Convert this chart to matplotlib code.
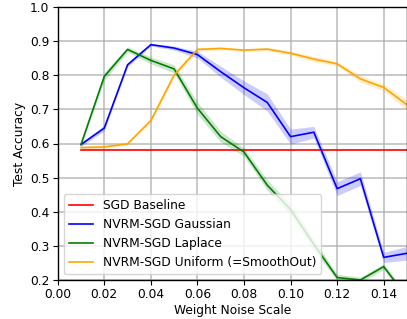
import numpy as np
import matplotlib
matplotlib.use("Agg")
import matplotlib.pyplot as plt

noise = [0.01, 0.02, 0.03, 0.04, 0.05, 0.06, 0.07, 0.08, 0.09, 0.10, 0.11, 0.12, 0.13, 0.14, 0.15]

sgd_mean = [0.582] * 15
sgd_std = [0.002] * 15

gauss_mean = [0.597, 0.645, 0.830, 0.889, 0.879, 0.860, 0.810, 0.763, 0.720, 0.620, 0.633, 0.468, 0.497, 0.267, 0.279]
gauss_std = [0.006, 0.008, 0.006, 0.004, 0.006, 0.010, 0.016, 0.020, 0.025, 0.022, 0.017, 0.020, 0.020, 0.015, 0.020]

lap_mean = [0.597, 0.796, 0.875, 0.843, 0.818, 0.703, 0.620, 0.575, 0.478, 0.407, 0.305, 0.208, 0.201, 0.240, 0.150]
lap_std = [0.005, 0.012, 0.008, 0.010, 0.012, 0.018, 0.016, 0.012, 0.015, 0.016, 0.016, 0.010, 0.008, 0.008, 0.010]

uni_mean = [0.588, 0.590, 0.599, 0.667, 0.800, 0.875, 0.878, 0.873, 0.876, 0.864, 0.847, 0.833, 0.789, 0.764, 0.713]
uni_std = [0.004, 0.004, 0.004, 0.006, 0.008, 0.006, 0.004, 0.004, 0.005, 0.006, 0.008, 0.006, 0.010, 0.010, 0.015]

series = [
    ("SGD Baseline", sgd_mean, sgd_std, "red"),
    ("NVRM-SGD Gaussian", gauss_mean, gauss_std, "blue"),
    ("NVRM-SGD Laplace", lap_mean, lap_std, "green"),
    ("NVRM-SGD Uniform (=SmoothOut)", uni_mean, uni_std, "orange"),
]

xticks = [0.00, 0.02, 0.04, 0.06, 0.08, 0.10, 0.12, 0.14]
yticks = [0.2, 0.3, 0.4, 0.5, 0.6, 0.7, 0.8, 0.9, 1.0]

fs = 8.8
fig = plt.figure(figsize=(4.07, 3.19), dpi=100)
ax = fig.add_axes([57.7 / 407, 1 - 280.3 / 319, (407 - 57.7) / 407, (280.3 - 6.7) / 319])

x = np.array(noise)
for label, m, s, c in series:
    m = np.array(m)
    s = np.array(s)
    ax.plot(x, m, color=c, lw=1.2, label=label)
    ax.fill_between(x, m - s, m + s, color=c, alpha=0.2, lw=0)

ax.set_xlim(0.0, 0.15)
ax.set_ylim(0.2, 1.0)
ax.set_xticks(xticks)
ax.set_yticks(yticks)
ax.set_xticklabels([f"{t:.2f}" for t in xticks], fontsize=fs)
ax.set_yticklabels([f"{t:.1f}" for t in yticks], fontsize=fs)
ax.tick_params(axis="x", pad=2.0, length=3.5)
ax.tick_params(axis="y", pad=2.5, length=3.5)
ax.grid(True, color="#b0b0b0", lw=1.2, alpha=0.8)
ax.set_axisbelow(True)
ax.set_xlabel("Weight Noise Scale", fontsize=fs, labelpad=2.0)
ax.set_ylabel("Test Accuracy", fontsize=fs, labelpad=3.0)
for sp in ax.spines.values():
    sp.set_color("black")
    sp.set_linewidth(1.0)
ax.legend(loc="lower left", fontsize=fs, framealpha=0.8, bbox_to_anchor=(0.0, 0.0))

fig.savefig("out.png", dpi=100)
